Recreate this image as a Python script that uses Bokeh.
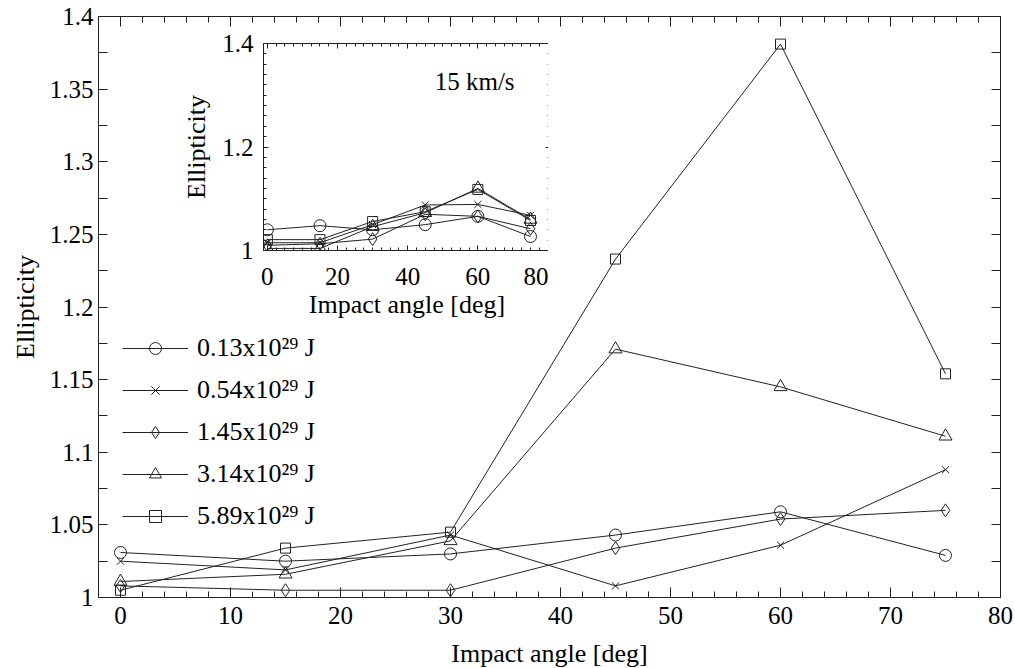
from bokeh.plotting import figure
from bokeh.models import (Range1d, LinearAxis, FixedTicker, CustomJSTickFormatter,
                          Legend, LegendItem, Label, GridBox)
from bokeh.embed import file_html
from bokeh.resources import INLINE

# Impact angles [deg]
angles = [0, 15, 30, 45, 60, 75]

# Impact energies (legend labels) and their marker shapes
energy_labels = ["0.13x10²⁹ J", "0.54x10²⁹ J", "1.45x10²⁹ J", "3.14x10²⁹ J", "5.89x10²⁹ J"]
marker_kinds = ["circle", "x", "diamond", "triangle", "square"]
marker_sizes = [12, 10, 13, 13, 10]

# Crater ellipticity, main panel
ell_013 = [1.031, 1.025, 1.030, 1.043, 1.059, 1.029]
ell_054 = [1.025, 1.019, 1.043, 1.008, 1.036, 1.088]
ell_145 = [1.008, 1.005, 1.005, 1.034, 1.054, 1.060]
ell_314 = [1.011, 1.016, 1.039, 1.171, 1.145, 1.111]
ell_589 = [1.005, 1.034, 1.045, 1.233, 1.381, 1.154]

# Crater ellipticity, inset (15 km/s)
ins_013 = [1.040, 1.048, 1.040, 1.050, 1.066, 1.027]
ins_054 = [1.015, 1.015, 1.050, 1.088, 1.089, 1.068]
ins_145 = [1.010, 1.013, 1.022, 1.070, 1.066, 1.042]
ins_314 = [1.004, 1.004, 1.046, 1.073, 1.120, 1.060]
ins_589 = [1.021, 1.021, 1.056, 1.075, 1.118, 1.058]

main_series = [ell_013, ell_054, ell_145, ell_314, ell_589]
inset_series = [ins_013, ins_054, ins_145, ins_314, ins_589]

# Tick positions
main_xticks = [0, 10, 20, 30, 40, 50, 60, 70, 80]
main_xminor = [v for v in range(-2, 81, 2)]
main_yticks = [1.0, 1.05, 1.1, 1.15, 1.2, 1.25, 1.3, 1.35, 1.4]
main_yminor = [1.025, 1.075, 1.125, 1.175, 1.225, 1.275, 1.325, 1.375]
inset_xticks = [0, 20, 40, 60, 80]
inset_xminor = [i * 2.5 for i in range(0, 33)]
inset_yticks = [1.0, 1.2, 1.4]
inset_yminor = [round(1.0 + 0.02 * i, 2) for i in range(0, 21)]

FONT = "Liberation Serif"
INK = "#222222"

num_fmt = CustomJSTickFormatter(code="return String(Math.round(tick*1000)/1000)")
blank_fmt = CustomJSTickFormatter(code="return ''")


def style_axis(ax, ticks, minor, label_size, major_len, minor_len, labels=True):
    ax.ticker = FixedTicker(ticks=ticks, minor_ticks=minor)
    ax.axis_line_color = INK
    ax.major_tick_line_color = INK
    ax.minor_tick_line_color = INK
    ax.major_tick_in = major_len
    ax.major_tick_out = 0
    ax.minor_tick_in = minor_len
    ax.minor_tick_out = 0
    ax.major_label_text_font = FONT
    ax.major_label_text_color = "black"
    ax.major_label_text_font_size = label_size
    ax.axis_label_text_font = FONT
    ax.axis_label_text_font_style = "normal"
    ax.axis_label_text_color = "black"
    if not labels:
        ax.formatter = blank_fmt
        ax.major_label_standoff = 0


# ---------------- main panel ----------------
p = figure(frame_width=902, frame_height=581,
           x_range=Range1d(-2, 80), y_range=Range1d(1.0, 1.4),
           output_backend="svg", toolbar_location=None,
           min_border_left=98, min_border_right=15,
           min_border_top=16, min_border_bottom=71,
           x_axis_label="Impact angle [deg]", y_axis_label="Ellipticity")
p.xgrid.grid_line_color = None
p.ygrid.grid_line_color = None
p.outline_line_color = INK
p.background_fill_color = "white"
p.border_fill_color = "white"

style_axis(p.xaxis[0], main_xticks, main_xminor, "25px", 10, 6)
p.xaxis[0].major_label_standoff = 9
p.xaxis[0].axis_label_standoff = 12
p.xaxis[0].axis_label_text_font_size = "26px"

style_axis(p.yaxis[0], main_yticks, main_yminor, "25px", 9, 9)
p.yaxis[0].formatter = num_fmt
p.yaxis[0].major_label_standoff = 5
p.yaxis[0].axis_label_standoff = 7
p.yaxis[0].axis_label_text_font_size = "26px"

top_ax = LinearAxis()
style_axis(top_ax, main_xticks, main_xminor, "10px", 10, 6, labels=False)
p.add_layout(top_ax, "above")
right_ax = LinearAxis()
style_axis(right_ax, main_yticks, main_yminor, "10px", 9, 9, labels=False)
p.add_layout(right_ax, "right")

items = []
for ys, lab, mk, sz in zip(main_series, energy_labels, marker_kinds, marker_sizes):
    rl = p.line(angles, ys, line_color=INK, line_width=1)
    rs = p.scatter(angles, ys, marker=mk, size=sz, fill_color=None,
                   line_color=INK, line_width=1)
    items.append(LegendItem(label=lab, renderers=[rl, rs]))

legend = Legend(items=items, location=(24, 66),
                glyph_width=66, glyph_height=30, label_height=30,
                spacing=12, padding=0, margin=0, label_standoff=9,
                border_line_color=None, background_fill_alpha=0,
                label_text_font=FONT, label_text_font_size="26px",
                label_text_color="black")
p.add_layout(legend)

# ---------------- inset panel (15 km/s) ----------------
q = figure(frame_width=287, frame_height=207,
           x_range=Range1d(-1.1, 80.7), y_range=Range1d(1.0, 1.4),
           output_backend="svg", toolbar_location=None,
           min_border_left=83, min_border_right=12,
           min_border_top=12, min_border_bottom=75,
           x_axis_label="Impact angle [deg]", y_axis_label="Ellipticity")
q.xgrid.grid_line_color = None
q.ygrid.grid_line_color = None
q.outline_line_color = INK
q.background_fill_color = "white"
q.border_fill_alpha = 0

style_axis(q.xaxis[0], inset_xticks, inset_xminor, "25px", 5, 3)
q.xaxis[0].major_label_standoff = 17
q.xaxis[0].axis_label_standoff = 2
q.xaxis[0].axis_label_text_font_size = "26px"

style_axis(q.yaxis[0], inset_yticks, inset_yminor, "25px", 5, 3)
q.yaxis[0].formatter = num_fmt
q.yaxis[0].major_label_standoff = 10
q.yaxis[0].axis_label_standoff = 8
q.yaxis[0].axis_label_text_font_size = "26px"

q_top = LinearAxis()
style_axis(q_top, inset_xticks, inset_xminor, "10px", 5, 3, labels=False)
q.add_layout(q_top, "above")
q_right = LinearAxis()
style_axis(q_right, inset_yticks, inset_yminor, "10px", 5, 3, labels=False)
q.add_layout(q_right, "right")

for ys, mk, sz in zip(inset_series, marker_kinds, marker_sizes):
    q.line(angles, ys, line_color=INK, line_width=1)
    q.scatter(angles, ys, marker=mk, size=sz, fill_color=None,
              line_color=INK, line_width=1)

q.add_layout(Label(x=47.7, y=1.327, text="15 km/s", text_font=FONT,
                   text_font_size="25px", text_color="black",
                   text_baseline="middle", text_align="left"))

p.margin = (0, 0, 0, 0)
q.margin = (27, 0, 0, 165)
q.align = "start"
p.align = "start"

layout = GridBox(children=[(p, 0, 0), (q, 0, 0)])

open("out.html", "w").write(file_html(layout, INLINE))
